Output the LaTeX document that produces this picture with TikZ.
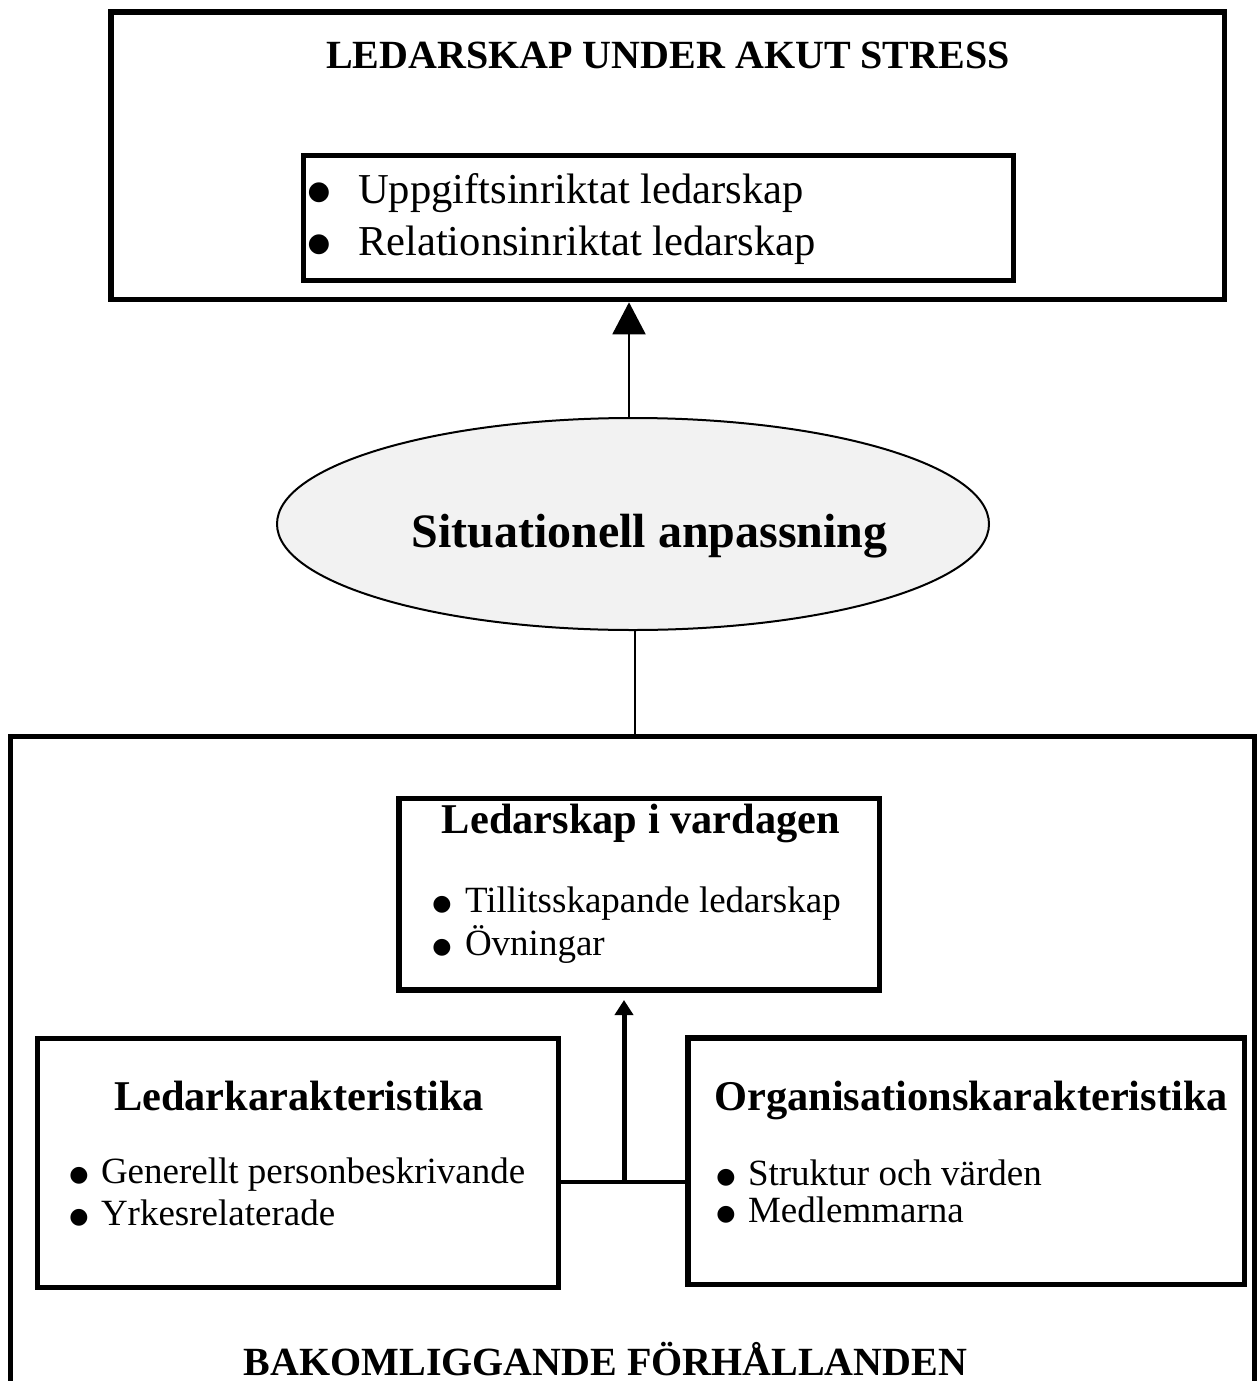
\documentclass[tikz,border=0pt]{standalone}
\usepackage{fontspec}
\setmainfont{Liberation Serif}
\newfontfamily\bulfont{DejaVu Sans}
\usetikzlibrary{shapes.geometric,arrows.meta}
\begin{document}
\begin{tikzpicture}[x=0.5pt,y=-0.5pt,
  frame/.style={draw, rectangle, inner sep=0pt, outer sep=0pt},
  txt/.style={inner sep=0pt, outer sep=0pt},
  ttl/.style={txt, anchor=base, font=\fontsize{21.2pt}{25pt}\selectfont\bfseries},
  itm/.style={txt, anchor=base west, font=\fontsize{18.5pt}{22pt}\selectfont},
  itmb/.style={txt, anchor=base, yshift=1pt, font=\bulfont\fontsize{11pt}{13pt}\selectfont},
  bigitm/.style={txt, anchor=base west, font=\fontsize{21.3pt}{25pt}\selectfont},
  bigitmb/.style={txt, anchor=base, yshift=1.8pt, font=\bulfont\fontsize{13pt}{15pt}\selectfont},
  caps/.style={txt, anchor=base, font=\fontsize{20pt}{24pt}\selectfont\bfseries}]
\useasboundingbox (0,0) rectangle (1257,1381);

% top box
\node[frame, line width=2.75pt, minimum width=556.75pt, minimum height=143.75pt] (top) at (667.75,155.75) {};
\node[caps] (toptitle) at (668,68) {LEDARSKAP UNDER AKUT STRESS};
\node[frame, line width=2.5pt, minimum width=355pt, minimum height=62.25pt] (inner) at (658.5,217.75) {};
\node[bigitmb] (ib1) at (319,203) {●};
\node[bigitm] (i1) at (358,203) {Uppgiftsinriktat ledarskap};
\node[bigitmb] (ib2) at (319,255) {●};
\node[bigitm] (i2) at (358,255) {Relationsinriktat ledarskap};

% ellipse
\node[ellipse, draw, line width=1pt, fill=gray!10, minimum width=356pt, minimum height=106pt, inner sep=0pt] (ell) at (633,524) {};
\node[txt, anchor=base, font=\fontsize{24pt}{28pt}\selectfont\bfseries] (sit) at (649.5,547) {Situationell anpassning};

\draw[line width=1pt, -{Triangle[length=16pt,width=16.5pt]}, shorten >=1.4pt]
  ([xshift=-2pt]ell.north) -- ([xshift=-2pt]ell.north |- top.south);

% bottom box (open at the bottom of the page)
\coordinate (bottop) at (635,736);
\draw[line width=2.5pt] (10.5,1381) -- (10.5,736) -- (1254.5,736) -- (1254.5,1381);
\draw[line width=1pt] (ell.south -| bottop) -- (bottop);

% Ledarskap i vardagen
\node[frame, line width=2.75pt, minimum width=240.25pt, minimum height=95.75pt] (vard) at (639.25,894.25) {};
\node[ttl] (vardt) at (641,833) {Ledarskap i vardagen};
\node[itmb] (vb1) at (442,912) {●};
\node[itm] (v1) at (465,912) {Tillitsskapande ledarskap};
\node[itmb] (vb2) at (442,955) {●};
\node[itm] (v2) at (465,955) {Övningar};

% Ledarkarakteristika
\node[frame, line width=2.5pt, minimum width=260.25pt, minimum height=124.5pt] (lk) at (297.75,1163) {};
\node[ttl] (lkt) at (299,1110) {Ledarkarakteristika};
\node[itmb] (lb1) at (79,1183) {●};
\node[itm] (l1) at (101,1183) {Generellt personbeskrivande};
\node[itmb] (lb2) at (79,1225) {●};
\node[itm] (l2) at (101,1225) {Yrkesrelaterade};

% Organisationskarakteristika
\node[frame, line width=2.75pt, minimum width=278.25pt, minimum height=123.25pt] (ok) at (966.25,1161.25) {};
\node[ttl] (okt) at (971,1110) {Organisationskarakteristika};
\node[itmb] (ob1) at (726,1185) {●};
\node[itm] (o1) at (748,1185) {Struktur och värden};
\node[itmb] (ob2) at (726,1222) {●};
\node[itm] (o2) at (748,1222) {Medlemmarna};

% connectors
\coordinate (junc) at (624,1182);
\draw[line width=2.25pt] (lk.east |- junc) -- (ok.west |- junc);
\draw[line width=2.5pt, -{Triangle[length=7.5pt,width=9pt]}, shorten >=5pt] (junc) -- (junc |- vard.south);

\node[caps] (bak) at (605.5,1375) {BAKOMLIGGANDE FÖRHÅLLANDEN};
\end{tikzpicture}
\end{document}
